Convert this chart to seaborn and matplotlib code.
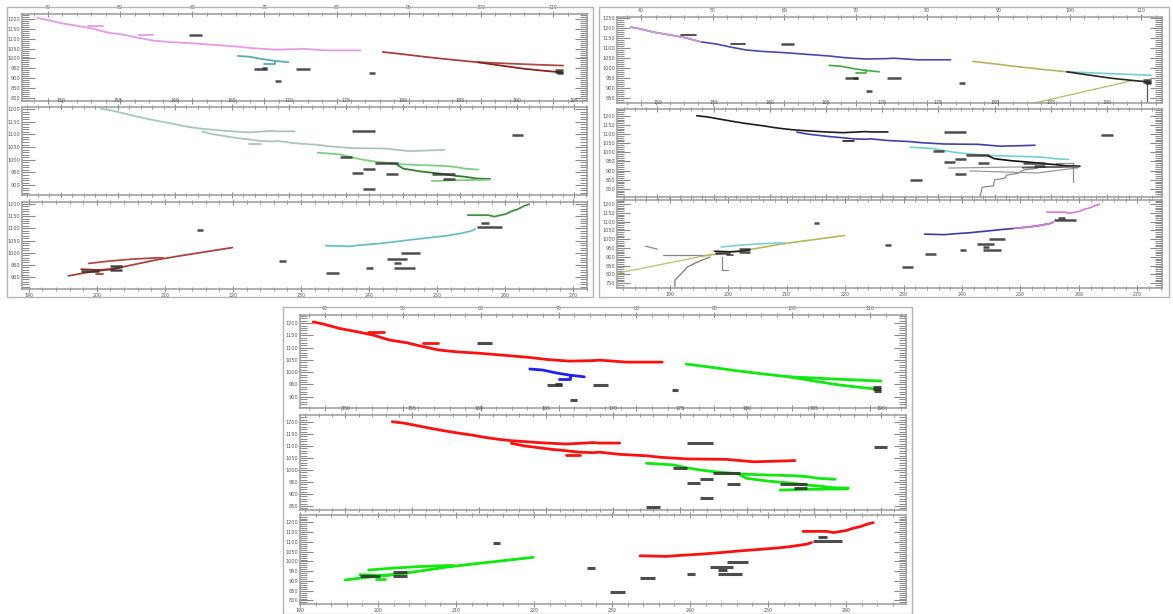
import numpy as np
import pandas as pd
import matplotlib
matplotlib.use("Agg")
import matplotlib.pyplot as plt
from matplotlib.ticker import MultipleLocator, FormatStrFormatter
from matplotlib.patches import Rectangle
import seaborn as sns

sns.set_style("white")
plt.rcParams["font.family"] = ["DejaVu Sans"]

# ---------------- track data (x = position, y = level) ----------------
# strip 1
s1_main_x = [38.5, 39.8, 41.9, 44.1, 46.2, 48.3, 50.5, 52.6, 54.7, 56.9, 59.9, 63.3,
             66.3, 68.4, 71.4, 74.4, 75.3, 78.7, 81.3, 83.3]
s1_main_y = [1205, 1196, 1178, 1165, 1151, 1131, 1120, 1104, 1090, 1083, 1077, 1068,
             1060, 1052, 1045, 1047, 1049, 1041, 1041, 1041]
s1_br1_x = [45.5, 47.6]
s1_br1_y = [1163, 1163]
s1_br2_x = [52.6, 54.5]
s1_br2_y = [1119, 1119]
s1_blue_x = [66.3, 67.9, 69.7, 71.4, 73.3]
s1_blue_y = [1013, 1009, 997, 988, 981]
s1_blueb_x = [71.4, 71.4, 70.0]
s1_blueb_y = [988, 973, 973]
s1_green_x = [86.4, 89.6, 92.8, 96.2, 99.6]
s1_green_y = [1033, 1020, 1006, 993, 981]
s1_gup_x = [99.6, 103.5, 107.5, 111.4]
s1_gup_y = [981, 975, 969, 964]
s1_glo_x = [99.6, 103.0, 106.0, 109.0, 111.2]
s1_glo_y = [981, 963, 948, 937, 930]

# strip 2
s2_upper_x = [153.5, 154.5, 155.5, 156.5, 157.5, 158.5, 159.5, 160.4, 161.4, 162.4,
              163.4, 164.4, 165.4, 166.5, 167.5, 168.5, 169.0, 170.5]
s2_upper_y = [1201, 1194, 1183, 1172, 1162, 1153, 1145, 1136, 1128, 1122,
              1118, 1114, 1111, 1108, 1111, 1114, 1112, 1112]
s2_lower_x = [162.4, 163.4, 164.4, 165.4, 166.5, 167.5, 168.5, 169.0, 170.5, 172.5,
              173.5, 175.5, 178.5, 180.5, 182.5, 183.6]
s2_lower_y = [1111, 1100, 1093, 1086, 1080, 1074, 1072, 1074, 1065, 1059,
              1053, 1046, 1044, 1034, 1037, 1039]
s2_lowb_x = [166.5, 167.5]
s2_lowb_y = [1062, 1062]
s2_g1_x = [172.5, 174.5, 175.5, 176.5, 177.5, 179.5, 181.5, 183.5, 184.5, 185.4, 186.6]
s2_g1_y = [1028, 1021, 1009, 1000, 993, 983, 979, 976, 972, 965, 961]
s2_g2_x = [179.5, 180.0, 181.5, 182.5, 183.5, 184.5, 185.4, 186.4, 187.6]
s2_g2_y = [979, 965, 954, 949, 944, 937, 933, 926, 924]
s2_g3_x = [182.5, 184.5, 187.5]
s2_g3_y = [916, 919, 921]

# strip 3
s3_gA_x = [195.8, 198.6, 202.0, 205.4, 208.8, 212.2, 215.6, 219.9]
s3_gA_y = [905, 919, 932, 951, 971, 987, 1002, 1021]
s3_gB_x = [198.8, 202.0, 205.4, 208.8, 209.7]
s3_gB_y = [956, 966, 974, 979, 979]
s3_gC_x = [197.7, 200.3, 202.0, 203.7]
s3_gC_y = [932, 929, 932, 940]
s3_gD_x = [199.8, 200.9]
s3_gD_y = [912, 912]
s3_r_x = [233.6, 237.0, 238.7, 241.3, 243.8, 246.4, 249.0, 251.5, 253.2, 255.0, 255.6]
s3_r_y = [1029, 1026, 1031, 1037, 1045, 1054, 1062, 1070, 1078, 1089, 1097]
s3_rup_x = [254.5, 257.5, 258.4, 260.1, 260.9, 261.8, 262.7, 263.5]
s3_rup_y = [1154, 1154, 1148, 1159, 1170, 1178, 1191, 1199]

# short dark marks: start, end, level
s1_marks_x0 = [59.5, 68.5, 69.6, 74.4, 84.5, 71.4, 110.3, 110.3, 110.5]
s1_marks_x1 = [61.4, 70.4, 70.4, 76.3, 85.3, 72.3, 111.4, 111.4, 111.4]
s1_marks_y = [1119, 948, 952, 948, 927, 887, 940, 930, 925]
s2_marks_x0 = [175.5, 175.5, 176.5, 178.5, 176.5, 172.5, 189.5, 174.5, 177.5, 182.5, 183.5]
s2_marks_x1 = [177.5, 176.5, 177.5, 179.5, 177.5, 173.5, 190.5, 175.5, 179.5, 184.5, 184.5]
s2_marks_y = [1112, 946, 962, 942, 883, 846, 1096, 1009, 987, 942, 925]
s3_marks_x0 = [197.7, 201.9, 201.9, 214.7, 226.8, 255.8, 256.4, 233.6, 239.6, 242.6,
               244.7, 243.6, 243.6, 229.7]
s3_marks_x1 = [200.3, 203.7, 203.7, 215.6, 227.8, 259.5, 257.6, 235.5, 240.6, 245.5,
               247.4, 244.7, 246.7, 231.7]
s3_marks_y = [924, 946, 927, 1092, 966, 1107, 1123, 917, 937, 974, 999, 956, 937, 841]

# additional traces only present in the second run
b1_olive_x = [92.0, 108.5]
b1_olive_y = [800, 935]
b1_drop_x = [110.8, 110.8]
b1_drop_y = [940, 820]
b2_step_x = [178.7, 178.9, 179.9, 180.0, 180.9, 181.1, 182.1, 182.6, 183.8]
b2_step_y = [755, 809, 816, 849, 858, 876, 885, 903, 913]
b2_line1_x = [175.9, 182.5, 186.0]
b2_line1_y = [914, 920, 918]
b2_line2_x = [177.8, 183.8, 187.4]
b2_line2_y = [898, 887, 915]
b2_drop_x = [185.5, 187.0, 187.0]
b2_drop_y = [942, 942, 838]
b3_olive_x = [181.2, 195.8]
b3_olive_y = [808, 905]
b3_step_x = [190.9, 190.9, 192.1, 193.0, 194.4, 195.6, 196.9]
b3_step_y = [729, 768, 808, 842, 865, 882, 899]
b3_line1_x = [188.9, 196.6]
b3_line1_y = [910, 910]
b3_line2_x = [185.8, 187.9]
b3_line2_y = [961, 944]
b3_drop_x = [199.0, 199.0, 200.0]
b3_drop_y = [899, 825, 825]

TRACKS = {
    1: {"main": (s1_main_x, s1_main_y), "br1": (s1_br1_x, s1_br1_y), "br2": (s1_br2_x, s1_br2_y),
        "blue": (s1_blue_x, s1_blue_y), "blueb": (s1_blueb_x, s1_blueb_y),
        "green": (s1_green_x, s1_green_y), "gup": (s1_gup_x, s1_gup_y), "glo": (s1_glo_x, s1_glo_y)},
    2: {"upper": (s2_upper_x, s2_upper_y), "lower": (s2_lower_x, s2_lower_y),
        "lowb": (s2_lowb_x, s2_lowb_y), "g1": (s2_g1_x, s2_g1_y), "g2": (s2_g2_x, s2_g2_y),
        "g3": (s2_g3_x, s2_g3_y)},
    3: {"gA": (s3_gA_x, s3_gA_y), "gB": (s3_gB_x, s3_gB_y), "gC": (s3_gC_x, s3_gC_y),
        "gD": (s3_gD_x, s3_gD_y), "r": (s3_r_x, s3_r_y), "rup": (s3_rup_x, s3_rup_y)},
}
EXTRA_B = {
    1: {"olive": (b1_olive_x, b1_olive_y, "#b9b968"), "drop": (b1_drop_x, b1_drop_y, "#555555")},
    2: {"step": (b2_step_x, b2_step_y, "#8a8a8a"), "l1": (b2_line1_x, b2_line1_y, "#9a9a9a"),
        "l2": (b2_line2_x, b2_line2_y, "#9a9a9a"), "drop": (b2_drop_x, b2_drop_y, "#8a8a8a")},
    3: {"olive": (b3_olive_x, b3_olive_y, "#bdbd6c"), "step": (b3_step_x, b3_step_y, "#7a7a7a"),
        "l1": (b3_line1_x, b3_line1_y, "#8a8a8a"), "l2": (b3_line2_x, b3_line2_y, "#8a8a8a"),
        "drop": (b3_drop_x, b3_drop_y, "#8a8a8a")},
}
MARKS = {
    1: (s1_marks_x0, s1_marks_x1, s1_marks_y),
    2: (s2_marks_x0, s2_marks_x1, s2_marks_y),
    3: (s3_marks_x0, s3_marks_x1, s3_marks_y),
}

RED, BLUE, GREEN = "#ff1010", "#2020f0", "#10e810"
PANELS = [
    dict(name="A", border=(7, 7, 593, 297), xr=(22, 587),
         strips=[(14, 101), (107, 195), (202, 289)],
         xlims=[(36.4, 114.7), (146.6, 196.1), (189.0, 272.0)],
         ylims=[(785, 1225), (861, 1208), (851, 1208)], lw=1.3, mlw=1.8,
         colors={1: {"main": "#e59be5", "br1": "#e59be5", "br2": "#e59be5", "blue": "#58adb0",
                     "blueb": "#58adb0", "green": "#a8403a", "gup": "#b04a44", "glo": "#8a2222"},
                 2: {"upper": "#a9c6b9", "lower": "#a9c6b9", "lowb": "#a9c6b9", "g1": "#7ccf7c",
                     "g2": "#2f7f2f", "g3": "#7ccf7c"},
                 3: {"gA": "#a8443e", "gB": "#b04c46", "gC": "#8a2a2a", "gD": "#a8443e",
                     "r": "#6dbec2", "rup": "#3f903f"}}),
    dict(name="B", border=(599, 7, 1169, 297), xr=(617, 1162),
         strips=[(17, 103), (109, 197), (200, 288)],
         xlims=[(36.6, 112.9), (146.4, 194.9), (181.0, 274.2)],
         ylims=[(825, 1255), (755, 1238), (723, 1223)], lw=1.2, mlw=1.8,
         colors={1: {"main": "#4848b0", "br1": "#333333", "br2": "#333333", "blue": "#44a844",
                     "blueb": "#44a844", "green": "#b4b45e", "gup": "#74cfcf", "glo": "#2a2a1a"},
                 2: {"upper": "#1c1c1c", "lower": "#4040b0", "lowb": "#1c1c1c", "g1": "#74d0d0",
                     "g2": "#111111", "g3": "#555555"},
                 3: {"gA": "#b5b55a", "gB": "#80d0d0", "gC": "#222222", "gD": "#444444",
                     "r": "#3c3ca4", "rup": "#d67ad6"}},
         heads={1: ("main", 50.0, "#d29bd8", "lt")},
         tails={3: ("r", 249.0, "#d67ad6", "gt")}),
    dict(name="C", border=(283, 307, 912, 614), xr=(300, 906),
         strips=[(315, 408), (415, 510), (515, 604)],
         xlims=[(36.8, 114.6), (146.6, 191.9), (190.0, 267.7)],
         ylims=[(854, 1233), (833, 1229), (782, 1238)], lw=2.0, mlw=2.2,
         colors={1: {"main": RED, "br1": RED, "br2": RED, "blue": BLUE, "blueb": BLUE,
                     "green": GREEN, "gup": GREEN, "glo": GREEN},
                 2: {"upper": RED, "lower": RED, "lowb": RED, "g1": GREEN, "g2": GREEN, "g3": GREEN},
                 3: {"gA": GREEN, "gB": GREEN, "gC": GREEN, "gD": GREEN, "r": RED, "rup": RED}}),
]

W, H = 1173, 614
fig = plt.figure(figsize=(W / 100, H / 100), dpi=100)


def style_axes(ax, xlim, ylim, strip):
    ax.set_xlim(*xlim)
    ax.set_ylim(*ylim)
    xmaj, xmin = (5, 1) if strip == 2 else (10, 2)
    ax.xaxis.set_major_locator(MultipleLocator(xmaj))
    ax.xaxis.set_minor_locator(MultipleLocator(xmin))
    ax.yaxis.set_major_locator(MultipleLocator(50))
    ax.yaxis.set_minor_locator(MultipleLocator(10))
    ax.xaxis.set_major_formatter(FormatStrFormatter("%d"))
    ax.yaxis.set_major_formatter(FormatStrFormatter("%d"))
    top_labels = strip in (1, 2)
    ax.tick_params(axis="x", which="both", top=True, bottom=True, direction="inout",
                   colors="#8a8a8a", labelcolor="#555555", labelsize=3.4, pad=0.5,
                   labeltop=top_labels, labelbottom=not top_labels)
    ax.tick_params(axis="x", which="major", length=4.5, width=0.7)
    ax.tick_params(axis="x", which="minor", length=2.5, width=0.6)
    ax.tick_params(axis="y", which="both", left=True, right=True, direction="in",
                   colors="#8a8a8a", labelcolor="#555555", labelsize=3.6, pad=1.5)
    ax.tick_params(axis="y", which="major", length=9, width=0.8)
    ax.tick_params(axis="y", which="minor", length=5, width=0.7)
    for sp in ax.spines.values():
        sp.set_color("#9a9a9a")
        sp.set_linewidth(1.1)
    ax.set_xlabel("")
    ax.set_ylabel("")
    ax.set_facecolor("white")


for p in PANELS:
    x0, y0, x1, y1 = p["border"]
    fig.patches.append(Rectangle((x0 / W, 1 - y1 / H), (x1 - x0) / W, (y1 - y0) / H,
                                 transform=fig.transFigure, fill=False,
                                 edgecolor="#b4b4b4", linewidth=1.0, zorder=0))
    ax_l, ax_r = p["xr"]
    for i, (st, sb) in enumerate(p["strips"]):
        strip = i + 1
        ax = fig.add_axes([ax_l / W, 1 - sb / H, (ax_r - ax_l) / W, (sb - st) / H])
        rows = []
        for name, (xs, ys) in TRACKS[strip].items():
            for k, (xv, yv) in enumerate(zip(xs, ys)):
                rows.append({"track": name, "x": xv, "y": yv, "k": k})
        df = pd.DataFrame(rows)
        sns.lineplot(data=df, x="x", y="y", hue="track", units="track", estimator=None,
                     sort=False, palette=p["colors"][strip], legend=False,
                     linewidth=p["lw"], ax=ax, zorder=3)
        # recoloured portions of a track
        for key in ("heads", "tails"):
            spec = p.get(key, {}).get(strip)
            if spec:
                name, cut, col, side = spec
                sub = df[df["track"] == name]
                sub = sub[sub["x"] <= cut] if side == "lt" else sub[sub["x"] >= cut]
                sns.lineplot(data=sub, x="x", y="y", estimator=None, sort=False,
                             color=col, linewidth=p["lw"], ax=ax, zorder=4)
        if p["name"] == "B":
            for name, (xs, ys, col) in EXTRA_B[strip].items():
                sns.lineplot(x=xs, y=ys, estimator=None, sort=False, color=col,
                             linewidth=0.9, ax=ax, zorder=2)
        mx0, mx1, my = MARKS[strip]
        ax.hlines(my, mx0, mx1, colors="#2e2e2e", linewidth=p["mlw"], alpha=0.85, zorder=5)
        style_axes(ax, p["xlims"][i], p["ylims"][i], strip)

fig.savefig("out.png", dpi=100, facecolor="white")
